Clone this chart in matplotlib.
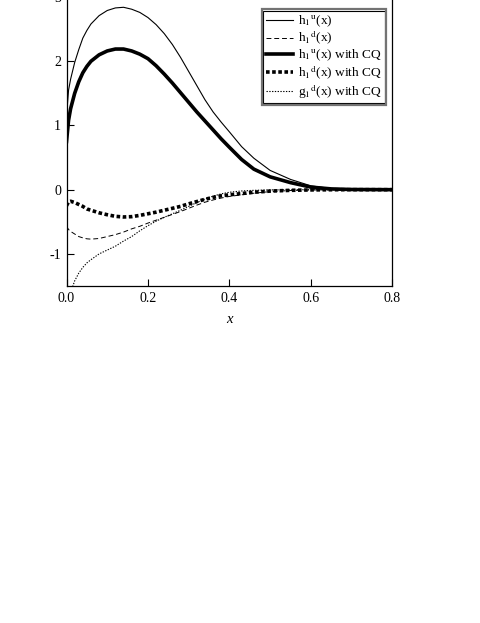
import matplotlib
matplotlib.use("Agg")
import matplotlib.pyplot as plt
from matplotlib.patches import Rectangle

plt.rcParams['font.family'] = ['Liberation Serif', 'STIXGeneral', 'DejaVu Serif']
plt.rcParams['mathtext.fontset'] = 'stix'
plt.rcParams['axes.unicode_minus'] = False

# values
x = [0.0, 0.005, 0.01, 0.02, 0.03, 0.04, 0.05, 0.06, 0.08, 0.10, 0.12, 0.14,
     0.16, 0.18, 0.20, 0.22, 0.24, 0.26, 0.28, 0.30, 0.32, 0.34, 0.36, 0.38,
     0.40, 0.43, 0.46, 0.50, 0.55, 0.60, 0.65, 0.70, 0.80]

h1u = [1.15, 1.55, 1.72, 1.98, 2.18, 2.36, 2.48, 2.58, 2.71, 2.79, 2.83, 2.84,
       2.81, 2.76, 2.68, 2.57, 2.43, 2.26, 2.06, 1.84, 1.62, 1.40, 1.21, 1.05,
       0.90, 0.67, 0.49, 0.30, 0.16, 0.06, 0.018, 0.004, 0.0]

h1d = [-0.57, -0.62, -0.65, -0.69, -0.73, -0.75, -0.765, -0.77, -0.76, -0.73, -0.70, -0.66,
       -0.61, -0.57, -0.52, -0.475, -0.43, -0.385, -0.34, -0.29, -0.24, -0.195, -0.16, -0.13,
       -0.105, -0.08, -0.055, -0.03, -0.013, -0.005, -0.001, 0.0, 0.0]

h1u_cq = [0.75, 1.08, 1.26, 1.50, 1.68, 1.82, 1.92, 2.00, 2.10, 2.16, 2.19, 2.19,
          2.16, 2.11, 2.04, 1.93, 1.80, 1.66, 1.51, 1.36, 1.21, 1.07, 0.93, 0.79,
          0.66, 0.47, 0.32, 0.20, 0.11, 0.04, 0.012, 0.003, 0.0]

h1d_cq = [-0.25, -0.19, -0.18, -0.20, -0.23, -0.26, -0.30, -0.32, -0.36, -0.39, -0.415, -0.425,
          -0.42, -0.40, -0.375, -0.35, -0.32, -0.29, -0.26, -0.22, -0.185, -0.15, -0.12, -0.095,
          -0.08, -0.06, -0.04, -0.022, -0.01, -0.004, -0.001, 0.0, 0.0]

x_g = [0.005, 0.01, 0.02, 0.03, 0.04, 0.05, 0.06, 0.08, 0.10, 0.12, 0.14,
       0.16, 0.18, 0.20, 0.22, 0.24, 0.26, 0.28, 0.30, 0.32, 0.34, 0.36, 0.38,
       0.40, 0.43, 0.46, 0.50, 0.55, 0.60, 0.65, 0.70, 0.80]
g1d_cq = [-1.85, -1.60, -1.42, -1.30, -1.21, -1.14, -1.09, -1.00, -0.94, -0.88, -0.80,
          -0.73, -0.64, -0.56, -0.49, -0.43, -0.375, -0.32, -0.26, -0.20, -0.145, -0.10, -0.065,
          -0.04, -0.02, -0.01, -0.004, -0.001, 0.0, 0.0, 0.0, 0.0]

labels = [r'h$_1$$^{\rm u}$(x)', r'h$_1$$^{\rm d}$(x)',
          r'h$_1$$^{\rm u}$(x) with CQ', r'h$_1$$^{\rm d}$(x) with CQ',
          r'g$_1$$^{\rm d}$(x) with CQ']
xticks = [0.0, 0.2, 0.4, 0.6, 0.8]
yticks = [-1, 0, 1, 2, 3]

fig = plt.figure(figsize=(4.81, 6.23), dpi=100)
ax = fig.add_axes([0.1383, 0.5409, 0.6773, 0.4639])

ax.plot(x, h1u, color='black', lw=0.8, label=labels[0])
ax.plot(x, h1d, color='black', lw=0.7, dashes=(5, 3), label=labels[1])
ax.plot(x, h1u_cq, color='black', lw=2.6, label=labels[2])
ax.plot(x, h1d_cq, color='black', lw=2.6, dashes=(1.0, 0.7), label=labels[3])
ax.plot(x_g, g1d_cq, color='black', lw=0.8, dashes=(1.2, 1.3), label=labels[4])

ax.set_xlim(0, 0.8)
ax.set_ylim(-1.5, 3)
ax.set_xticks(xticks)
ax.set_xticklabels(['%.1f' % t for t in xticks])
ax.set_yticks(yticks)
ax.tick_params(direction='in', length=5, width=0.8, labelsize=10, pad=4)
for s in ax.spines.values():
    s.set_linewidth(0.9)
ax.set_xlabel('x', style='italic', fontsize=10.5, labelpad=6)

leg = ax.legend(loc='upper right', bbox_to_anchor=(0.977, 0.952), borderaxespad=0,
                fontsize=9.6, handlelength=2.0, handletextpad=0.4, labelspacing=0.02,
                borderpad=0.2, fancybox=False, framealpha=1, edgecolor='black')
leg.get_frame().set_linewidth(0.8)

# double border round the legend
fig.canvas.draw()
bb = leg.get_window_extent().transformed(fig.transFigure.inverted())
pad = 1.5 / 481
ax.add_patch(Rectangle((bb.x0 - pad, bb.y0 - pad * 481 / 623), bb.width + 2 * pad,
                       bb.height + 2 * pad * 481 / 623, transform=fig.transFigure,
                       fill=False, edgecolor='0.45', lw=1.6, zorder=6, clip_on=False))

fig.savefig('out.png', dpi=100)
